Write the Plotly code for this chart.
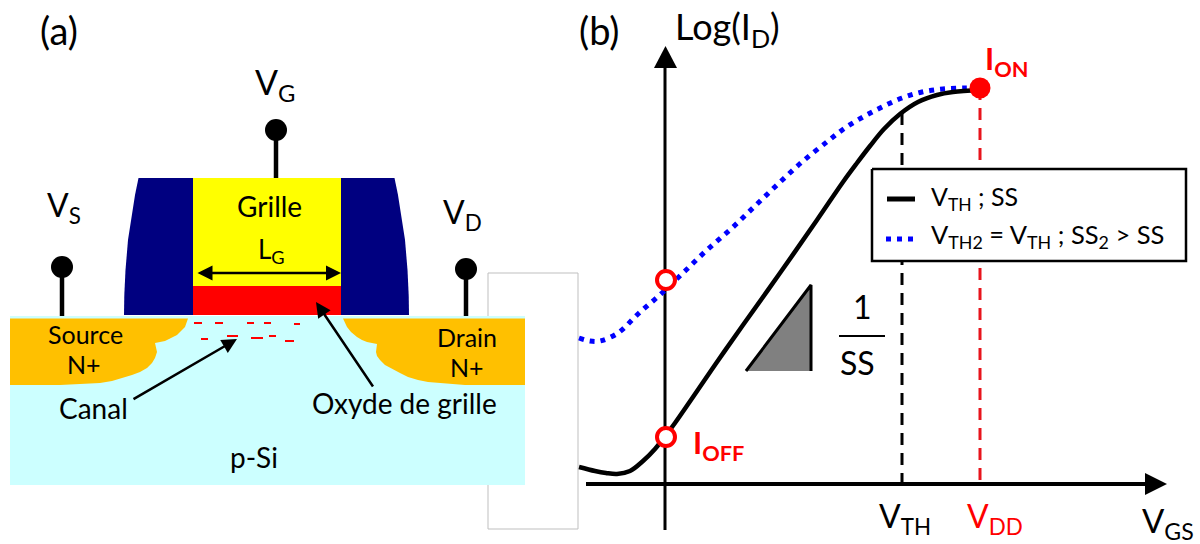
import plotly.graph_objects as go

FONT = "Lato"
BLACK = "#000000"
RED = "#FF0000"
BLUE = "#0000FF"

# ---- panel (b): transfer curves (pixel-space diagram units)
curve_x = [579, 595, 606, 617, 630, 643, 655, 666, 675, 693, 717, 743, 780, 817, 843, 857, 870, 884, 900, 918, 937, 953, 980]
curve_y = [467, 471, 473, 474, 471, 461, 449, 435, 423, 397, 362, 325, 273, 220, 182, 163, 146, 129, 114, 102, 95, 92, 90]
curve2_x = [579, 590, 600, 618, 638, 662, 685, 708, 732, 755, 778, 802, 828, 845, 863, 882, 902, 922, 943, 965, 980]
curve2_y = [338, 341, 341, 333, 314, 293, 271, 249, 228, 206, 184, 162, 141, 128, 117, 107, 98, 92, 89, 88, 88]
vth_x = [902, 902]
vth_y = [113, 484]
vdd_x = [980, 980]
vdd_y = [88, 484]
open_x = [666, 666]
open_y = [280, 437]
on_x = [980]
on_y = [88]
yaxis_x = [665, 665]
yaxis_y = [530, 67]
yhead_x = [654, 677, 665.5]
yhead_y = [68, 68, 46]
xaxis_x = [586, 1146]
xaxis_y = [484, 484]
xhead_x = [1145, 1145, 1167]
xhead_y = [473, 495, 484]
tri_x = [746, 811, 811]
tri_y = [371, 285, 371]
frac_x = [839, 885]
frac_y = [336, 336]
box_x = [872, 1186, 1186, 872]
box_y = [169, 169, 261, 261]
leg1_x = [887, 915]
leg1_y = [199, 199]
leg2_x = [886, 915]
leg2_y = [239, 239]
blank_x = [488, 578, 578, 488]
blank_y = [273, 273, 529, 529]

# ---- panel (a): device cross-section
sub_x = [10, 525, 525, 10]
sub_y = [316, 316, 485, 485]
src_x = [10, 188, 185, 181, 177, 171, 165, 155, 157, 155, 152, 147, 140, 132, 123, 112, 100, 60, 10]
src_y = [318.5, 318.5, 327, 331, 335, 338, 341, 343, 352, 358, 363, 368, 372, 375, 378, 381, 383, 385, 385]
drn_x = [343, 347, 351, 357, 362, 367, 377, 376, 377, 380, 385, 392, 400, 408, 418, 428, 448, 465, 525, 525]
drn_y = [318.5, 327, 332, 337, 340, 342, 344, 352, 356, 360, 365, 369, 373, 377, 380, 382, 384, 385, 385, 318.5]
spacerL_x = [138.5, 193, 193, 124, 124.3, 125.5, 128, 131.5, 135]
spacerL_y = [178, 178, 315, 315, 295, 270, 240, 215, 195]
spacerR_x = [394.5, 341, 341, 409, 408.7, 407.5, 405, 401.5, 398]
spacerR_y = [178, 178, 315, 315, 295, 270, 240, 215, 195]
gate_x = [193, 341, 341, 193]
gate_y = [178, 178, 286, 286]
oxide_x = [193, 341, 341, 193]
oxide_y = [286, 286, 315, 315]
stemG_x = [276, 276]
stemG_y = [130, 178]
stemS_x = [62, 62]
stemS_y = [267, 316]
stemD_x = [466, 466]
stemD_y = [269, 316]
term_x = [276, 62, 466]
term_y = [130, 267, 269]
charge_x0 = [194, 215, 247, 264, 294, 201, 227, 251, 269, 285]
charge_x1 = [202, 223, 254, 271, 300, 208, 238, 263, 276, 294]
charge_y = [323, 323, 323, 323, 324, 339, 336, 338, 336, 341]

# ---- texts
labels = [
    ("(a)", 59, 30, 38, BLACK, False, "center"),
    ("(b)", 599, 30, 38, BLACK, False, "center"),
    ("Log(I<sub>D</sub>)", 727, 28, 36, BLACK, False, "center"),
    ("V<sub>G</sub>", 275, 84, 34, BLACK, False, "center"),
    ("V<sub>S</sub>", 64, 207, 32, BLACK, False, "center"),
    ("V<sub>D</sub>", 462, 214, 32, BLACK, False, "center"),
    ("Grille", 269, 206, 28, BLACK, False, "center"),
    ("L<sub>G</sub>", 271, 250, 26, BLACK, False, "center"),
    ("Source", 85, 334, 25, BLACK, False, "center"),
    ("N+", 84, 364, 25, BLACK, False, "center"),
    ("Drain", 467, 337, 25, BLACK, False, "center"),
    ("N+", 467, 367, 25, BLACK, False, "center"),
    ("Canal", 93, 408, 28, BLACK, False, "center"),
    ("Oxyde de grille", 404, 403, 28, BLACK, False, "center"),
    ("p-Si", 254, 457, 28, BLACK, False, "center"),
    ("1", 862, 306, 32, BLACK, False, "center"),
    ("SS", 857, 362, 32, BLACK, False, "center"),
    ("I<sub>ON</sub>", 1006, 60, 31, RED, True, "center"),
    ("I<sub>OFF</sub>", 718, 444, 31, RED, True, "center"),
    ("V<sub>TH</sub>", 905, 518, 32, BLACK, False, "center"),
    ("V<sub>DD</sub>", 995, 518, 32, RED, False, "center"),
    ("V<sub>GS</sub>", 1168, 522, 33, BLACK, False, "center"),
    ("V<sub>TH</sub> ; SS", 929, 198, 25, BLACK, False, "left"),
    ("V<sub>TH2</sub> = V<sub>TH</sub> ; SS<sub>2</sub> > SS", 929, 236, 25.5, BLACK, False, "left"),
]
pointers = [
    (132, 400, 237, 339),
    (374, 388, 316, 302),
]
lg_span_x = [196, 341]
lg_span_y = [273, 273]

fig = go.Figure()


def poly(x, y, fill, line=None, width=0, name=None):
    fig.add_trace(go.Scatter(
        x=x, y=y, mode="lines", fill="toself", fillcolor=fill, name=name,
        line=dict(color=line or fill, width=width),
        hoverinfo="skip"))


def path(x, y, color, width, dash=None, smooth=False, name=None):
    fig.add_trace(go.Scatter(
        x=x, y=y, mode="lines", name=name,
        line=dict(color=color, width=width, dash=dash, shape="spline" if smooth else "linear"),
        hoverinfo="skip"))


# blank framed rectangle sits behind the substrate
poly(blank_x + blank_x[:1], blank_y + blank_y[:1], "#FFFFFF", "#BFBFBF", 1, name="blank")

# device
poly(sub_x, sub_y, "#CCFFFF", name="p-Si")
poly(src_x, src_y, "#FFC000", name="Source")
poly(drn_x, drn_y, "#FFC000", name="Drain")
poly(spacerL_x, spacerL_y, "#000080", name="spacer")
poly(spacerR_x, spacerR_y, "#000080", name="spacer")
poly(gate_x, gate_y, "#FFFF00", name="Grille")
poly(oxide_x, oxide_y, "#FF0000", name="Oxyde")
path(stemG_x, stemG_y, BLACK, 4.5)
path(stemS_x, stemS_y, BLACK, 4.5)
path(stemD_x, stemD_y, BLACK, 4.5)
fig.add_trace(go.Scatter(x=term_x, y=term_y, mode="markers", hoverinfo="skip",
                         marker=dict(size=22, color=BLACK)))
cx, cy = [], []
for a, b, c in zip(charge_x0, charge_x1, charge_y):
    cx += [a, b, None]
    cy += [c, c, None]
path(cx, cy, RED, 2, name="charges")

# panel (b)
path(vth_x, vth_y, BLACK, 3, dash="12px,8px")
path(vdd_x, vdd_y, "#E8141C", 3, dash="12px,8px")
path(yaxis_x, yaxis_y, BLACK, 3)
poly(yhead_x, yhead_y, BLACK)
path(xaxis_x, xaxis_y, BLACK, 4)
poly(xhead_x, xhead_y, BLACK)
path(curve2_x, curve2_y, BLUE, 5, dash="5px,6px", smooth=True, name="VTH2 = VTH ; SS2 > SS")
path(curve_x, curve_y, BLACK, 4.5, smooth=True, name="VTH ; SS")
poly(tri_x, tri_y, "#808080", BLACK, 3)
path(frac_x, frac_y, BLACK, 2)
poly(box_x + box_x[:1], box_y + box_y[:1], "#FFFFFF", BLACK, 2.5, name="legend")
path(leg1_x, leg1_y, BLACK, 5)
path(leg2_x, leg2_y, BLUE, 5, dash="5px,6px")
fig.add_trace(go.Scatter(x=open_x, y=open_y, mode="markers", hoverinfo="skip",
                         marker=dict(size=18, color="#FFFFFF", line=dict(color=RED, width=4))))
fig.add_trace(go.Scatter(x=on_x, y=on_y, mode="markers", hoverinfo="skip",
                         marker=dict(size=21, color=RED)))

annotations = []
for text, x, y, size, color, bold, anchor in labels:
    annotations.append(dict(
        x=x, y=y, xref="x", yref="y", text=f"<b>{text}</b>" if bold else text,
        showarrow=False, xanchor=anchor, yanchor="middle",
        font=dict(family=FONT, size=size, color=color)))
for x0, y0, x1, y1 in pointers:
    annotations.append(dict(
        x=x1, y=y1, ax=x0, ay=y0, xref="x", yref="y", axref="x", ayref="y", text="",
        showarrow=True, arrowhead=2, arrowsize=1.2, arrowwidth=2.5, arrowcolor=BLACK))
annotations.append(dict(
    x=lg_span_x[1], y=lg_span_y[1], ax=lg_span_x[0], ay=lg_span_y[0],
    xref="x", yref="y", axref="x", ayref="y", text="",
    showarrow=True, arrowhead=2, startarrowhead=2, arrowside="end+start",
    arrowsize=1.2, startarrowsize=1.2, arrowwidth=2.5, arrowcolor=BLACK))

fig.update_layout(
    width=1200, height=544, margin=dict(l=0, r=0, t=0, b=0),
    paper_bgcolor="#FFFFFF", plot_bgcolor="#FFFFFF", showlegend=False,
    annotations=annotations,
    xaxis=dict(range=[0, 1200], visible=False, fixedrange=True),
    yaxis=dict(range=[544, 0], visible=False, fixedrange=True),
)
fig.write_html("out.html", config={"displayModeBar": False},
               post_script="document.body.style.margin='0';document.body.style.overflow='hidden';")
